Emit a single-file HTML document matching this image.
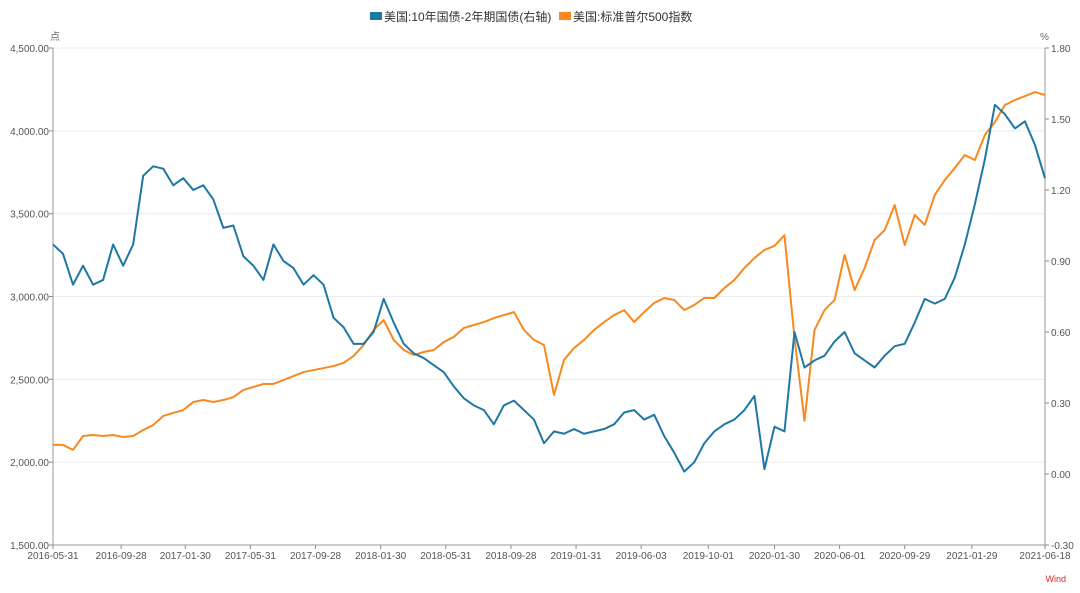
<!DOCTYPE html>
<html><head><meta charset="utf-8">
<style>
body{margin:0;background:#fff;font-family:"Liberation Sans","Noto Sans CJK SC",sans-serif;}
svg text{font-family:"Liberation Sans","Noto Sans CJK SC",sans-serif;}
</style></head>
<body>
<svg id="chart" width="1080" height="588" viewBox="0 0 1080 588" xmlns="http://www.w3.org/2000/svg">
<g>
  <rect x="370" y="12" width="12" height="8" fill="#1f77a4"/>
  <text x="384" y="21" font-size="12" fill="#333">美国:10年国债-2年期国债(右轴)</text>
  <rect x="559" y="12" width="12" height="8" fill="#f7891f"/>
  <text x="573" y="21" font-size="12" fill="#333">美国:标准普尔500指数</text>
</g>
<text x="50" y="40" font-size="10" fill="#666">点</text>
<text x="1040" y="40" font-size="10" fill="#666">%</text>
<text x="1066" y="582" font-size="9" fill="#e0262a" text-anchor="end">Wind</text>
<g id="grid"></g><g id="axes"></g><g id="series"></g>
</svg>
<script>
const leftTicks=[1500,2000,2500,3000,3500,4000,4500];
const leftTickLabels=["1,500.00","2,000.00","2,500.00","3,000.00","3,500.00","4,000.00","4,500.00"];
const rightTicks=[-0.3,0,0.3,0.6,0.9,1.2,1.5,1.8];
const rightTickLabels=["-0.30","0.00","0.30","0.60","0.90","1.20","1.50","1.80"];
const dateLabels=["2016-05-31","2016-09-28","2017-01-30","2017-05-31","2017-09-28","2018-01-30","2018-05-31","2018-09-28","2019-01-31","2019-06-03","2019-10-01","2020-01-30","2020-06-01","2020-09-29","2021-01-29","2021-06-18"];
const datePos=[0,6.8,13.2,19.7,26.2,32.7,39.2,45.7,52.2,58.7,65.4,72.0,78.5,85.0,91.7,99];
const spread=[0.97,0.93,0.80,0.88,0.80,0.82,0.97,0.88,0.97,1.26,
1.30,1.29,1.22,1.25,1.20,1.22,1.16,1.04,1.05,0.92,
0.88,0.82,0.97,0.90,0.87,0.80,0.84,0.80,0.66,0.62,
0.55,0.55,0.60,0.74,0.64,0.55,0.51,0.49,0.46,0.43,
0.37,0.32,0.29,0.27,0.21,0.29,0.31,0.27,0.23,0.13,
0.18,0.17,0.19,0.17,0.18,0.19,0.21,0.26,0.27,0.23,
0.25,0.16,0.09,0.01,0.05,0.13,0.18,0.21,0.23,0.27,
0.33,0.02,0.20,0.18,0.60,0.45,0.48,0.50,0.56,0.60,
0.51,0.48,0.45,0.50,0.54,0.55,0.64,0.74,0.72,0.74,
0.83,0.97,1.14,1.33,1.56,1.52,1.46,1.49,1.39,1.25];
const spx=[2104,2104,2074,2158,2164,2158,2164,2152,2158,2194,
2224,2279,2297,2315,2363,2375,2363,2375,2393,2436,
2454,2472,2472,2496,2520,2544,2556,2568,2580,2599,
2641,2707,2798,2858,2738,2677,2647,2665,2677,2725,
2756,2810,2828,2846,2870,2888,2906,2798,2738,2707,
2406,2617,2689,2738,2798,2846,2888,2918,2846,2906,
2961,2991,2979,2918,2949,2991,2991,3051,3100,3172,
3232,3281,3305,3370,2750,2250,2798,2918,2979,3251,
3039,3172,3341,3401,3552,3311,3492,3432,3613,3703,
3776,3854,3824,3975,4053,4156,4186,4210,4234,4216];
const X0=53,X1=1045,Y0=48,Y1=545;
const xs=i=>X0+(X1-X0)*i/(spread.length-1);
const yL=v=>Y1-(v-1500)/3000*(Y1-Y0);
const yR=v=>Y1-(v+0.3)/2.1*(Y1-Y0);
const NS="http://www.w3.org/2000/svg";
function mk(tag,attrs,parent,txt){const e=document.createElementNS(NS,tag);for(const k in attrs)e.setAttribute(k,attrs[k]);if(txt!==undefined)e.textContent=txt;parent.appendChild(e);return e;}
const grid=document.getElementById('grid'),axes=document.getElementById('axes'),ser=document.getElementById('series');
leftTicks.forEach((t,i)=>{const y=yL(t);
 if(i>0){const g=mk('line',{x1:X0,x2:X1,y1:y,y2:y,stroke:'#ececec','stroke-width':1},grid);
 
 }
 mk('line',{x1:X0-4,x2:X0,y1:y,y2:y,stroke:'#888'},axes);
 const tx=mk('text',{x:X0-4,y:y+4,'font-size':10,fill:'#555','text-anchor':'end'},axes,leftTickLabels[i]);
 
 });
rightTicks.forEach((t,i)=>{const y=yR(t);
 mk('line',{x1:X1,x2:X1+4,y1:y,y2:y,stroke:'#888'},axes);
 const tx=mk('text',{x:X1+6,y:y+4,'font-size':10,fill:'#555'},axes,rightTickLabels[i]);
 
 });
dateLabels.forEach((d,i)=>{const x=xs(datePos[i]);
 mk('line',{x1:x,x2:x,y1:Y1,y2:Y1+4,stroke:'#888'},axes);
 const tx=mk('text',{x:x,y:Y1+14,'font-size':10,fill:'#555','text-anchor':'middle'},axes,d);
 
 });
const la=mk('line',{x1:X0,x2:X0,y1:Y0,y2:Y1,stroke:'#999'},axes);


const ra=mk('line',{x1:X1,x2:X1,y1:Y0,y2:Y1,stroke:'#999'},axes);


const ba=mk('line',{x1:X0,x2:X1,y1:Y1,y2:Y1,stroke:'#999'},axes);


const p2=mk('polyline',{points:spx.map((v,i)=>xs(i)+','+yL(v)).join(' '),fill:'none',stroke:'#f7891f','stroke-width':2,'stroke-linejoin':'round'},ser);


const p1=mk('polyline',{points:spread.map((v,i)=>xs(i)+','+yR(v)).join(' '),fill:'none',stroke:'#1f77a4','stroke-width':2,'stroke-linejoin':'round'},ser);


</script>
</body></html>
